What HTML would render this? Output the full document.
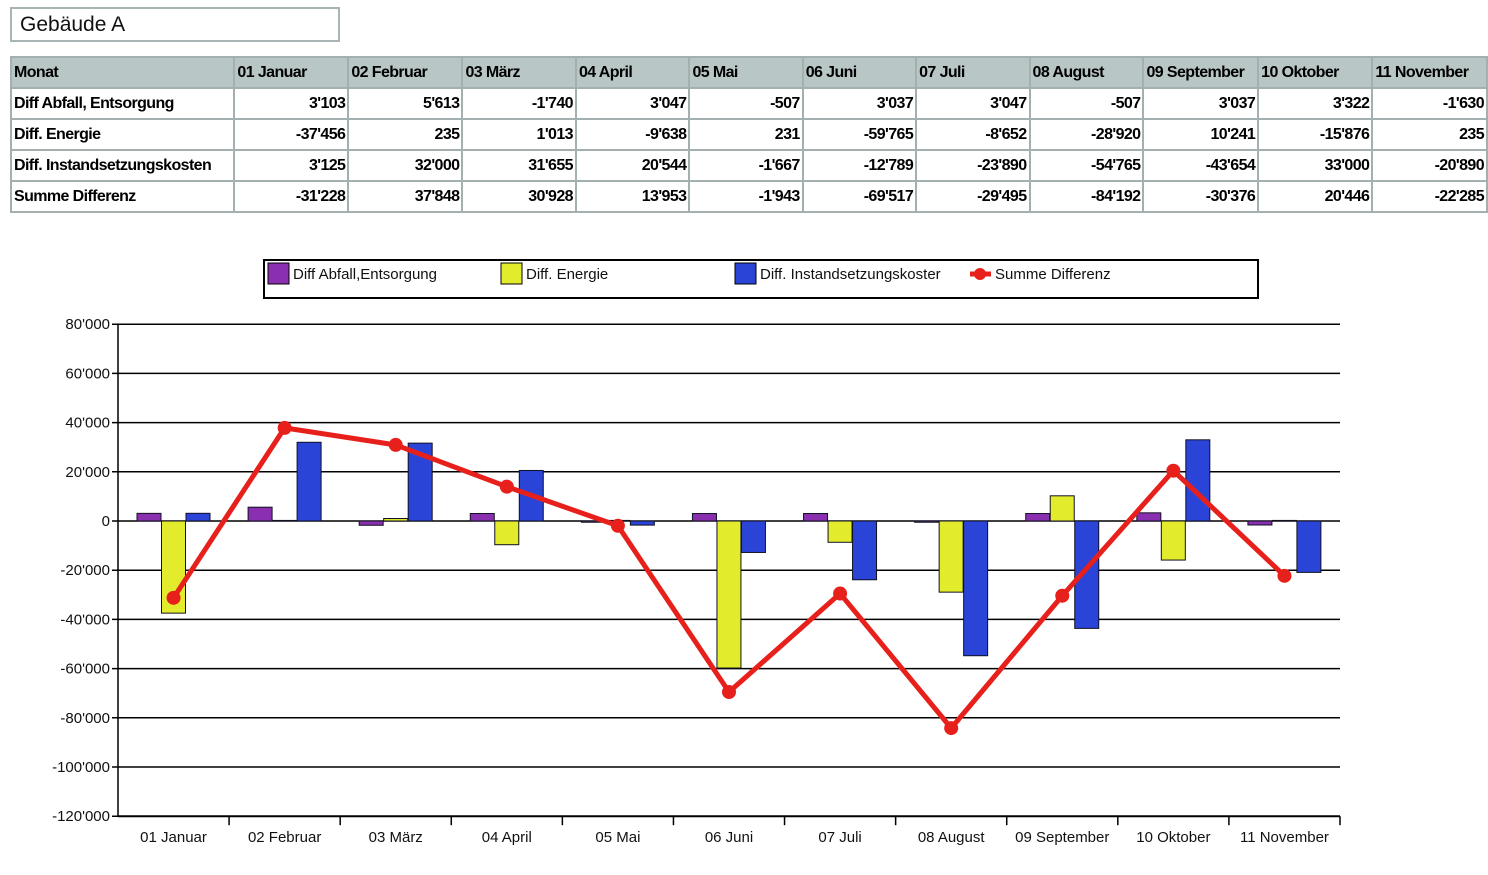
<!DOCTYPE html>
<html><head><meta charset="utf-8"><style>
body{margin:0;background:#fff;width:1488px;height:875px;overflow:hidden;position:relative;font-family:"Liberation Sans",sans-serif}
#title{position:absolute;left:10px;top:7px;width:318px;height:31px;border:2px solid #a9b4b4;font-size:21px;line-height:31px;padding-left:8px;box-sizing:content-box;color:#111}
table{position:absolute;left:10px;top:56px;border-collapse:collapse;font-family:"Liberation Sans Narrow","Liberation Sans",sans-serif;font-weight:bold;font-size:16px;letter-spacing:-0.6px}
td{border:2px solid #a4b0b0;height:29px;padding:0 2px;white-space:nowrap}
tr.h td{background:#b9c6c6}
td.n{text-align:right}
td.c0{width:218px}
td.c{width:109px}
svg{position:absolute;left:0;top:0}
</style></head><body>
<div id="title">Gebäude A</div>
<table id="tbl"></table>
<svg id="ch" width="1488" height="875"></svg>
<script>
const categories=["01 Januar","02 Februar","03 März","04 April","05 Mai","06 Juni","07 Juli","08 August","09 September","10 Oktober","11 November"];
const abfall=[3103,5613,-1740,3047,-507,3037,3047,-507,3037,3322,-1630];
const energie=[-37456,235,1013,-9638,231,-59765,-8652,-28920,10241,-15876,235];
const instand=[3125,32000,31655,20544,-1667,-12789,-23890,-54765,-43654,33000,-20890];
const summe=[-31228,37848,30928,13953,-1943,-69517,-29495,-84192,-30376,20446,-22285];
const yTicks=[80000,60000,40000,20000,0,-20000,-40000,-60000,-80000,-100000,-120000];
const fmt=v=>(v<0?"-":"")+Math.abs(v).toString().replace(/\B(?=(\d{3})+(?!\d))/g,"'");

const tbl=document.getElementById('tbl');
const rows=[["Monat",categories,true],["Diff Abfall, Entsorgung",abfall.map(fmt)],["Diff. Energie",energie.map(fmt)],["Diff. Instandsetzungskosten",instand.map(fmt)],["Summe Differenz",summe.map(fmt)]];
rows.forEach((r,i)=>{
  const tr=document.createElement('tr');
  if(i===0)tr.className='h';
  
  
  let html='<td class="c0">'+r[0]+'</td>';
  r[1].forEach(v=>{html+='<td class="c'+(i?' n':'')+'">'+v+'</td>';});
  tr.innerHTML=html;tbl.appendChild(tr);
});

const NS="http://www.w3.org/2000/svg";
const svg=document.getElementById('ch');
const X0=118,X1=1340,Y0=521,PX=49.2/20000;
const bw=(X1-X0)/categories.length;
const y=v=>Y0-v*PX;
const bx=i=>X0+i*bw;
function el(t,a,p){const e=document.createElementNS(NS,t);for(const k in a)e.setAttribute(k,a[k]);(p||svg).appendChild(e);return e;}
yTicks.forEach(t=>{
  const g=el('line',{x1:X0-6,x2:X1,y1:y(t),y2:y(t),stroke:'#000','stroke-width':1.5});
  
  
  const tx=el('text',{x:110,y:y(t)+5,'text-anchor':'end','font-size':15,fill:'#111'});
  tx.textContent=fmt(t);
  
  
});
el('line',{x1:X0,x2:X0,y1:y(80000),y2:y(-120000),stroke:'#000','stroke-width':1.5});
el('line',{x1:X0,x2:X1,y1:y(-120000),y2:y(-120000),stroke:'#000','stroke-width':2});
categories.forEach((c,i)=>{
  el('line',{x1:bx(i+1),x2:bx(i+1),y1:y(-120000),y2:y(-120000)+9,stroke:'#000','stroke-width':1.5});
  const tx=el('text',{x:bx(i)+bw/2,y:842,'text-anchor':'middle','font-size':15,fill:'#111'});
  tx.textContent=c;
  
  
});
const series=[[abfall,'#8a2fb0','abfall-bar'],[energie,'#e2ec2c','energie-bar'],[instand,'#2a44d8','instand-bar']];
series.forEach((s,k)=>{
  s[0].forEach((v,i)=>{
    const r=el('rect',{x:bx(i)+19+k*24.5,y:Math.min(y(v),Y0),width:24,height:Math.abs(y(v)-Y0),fill:s[1],stroke:'#112',"stroke-width":1});
    
    
  });
});
const pl=el('polyline',{points:summe.map((v,i)=>(bx(i)+bw/2)+','+y(v)).join(' '),fill:'none',stroke:'#e8201c','stroke-width':5,'stroke-linejoin':'round'});


summe.forEach((v,i)=>{
  const c=el('circle',{cx:bx(i)+bw/2,cy:y(v),r:7,fill:'#e8201c'});
  
  
});
const lg=el('g',{});


el('rect',{x:264,y:260,width:994,height:38,fill:'#fff',stroke:'#000','stroke-width':2},lg);
const items=[[268,'#8a2fb0','Diff Abfall,Entsorgung'],[501,'#e2ec2c','Diff. Energie'],[735,'#2a44d8','Diff. Instandsetzungskoster'],[970,null,'Summe Differenz']];
items.forEach(it=>{
  if(it[1]) el('rect',{x:it[0],y:263,width:21,height:21,fill:it[1],stroke:'#000'},lg);
  else {el('line',{x1:it[0],x2:it[0]+21,y1:274,y2:274,stroke:'#e8201c','stroke-width':5},lg);el('circle',{cx:it[0]+10,cy:274,r:6,fill:'#e8201c'},lg);}
  const t=el('text',{x:it[0]+25,y:279,'font-size':15,fill:'#111'},lg);
  t.textContent=it[2];
  
  
});
</script>
</body></html>
